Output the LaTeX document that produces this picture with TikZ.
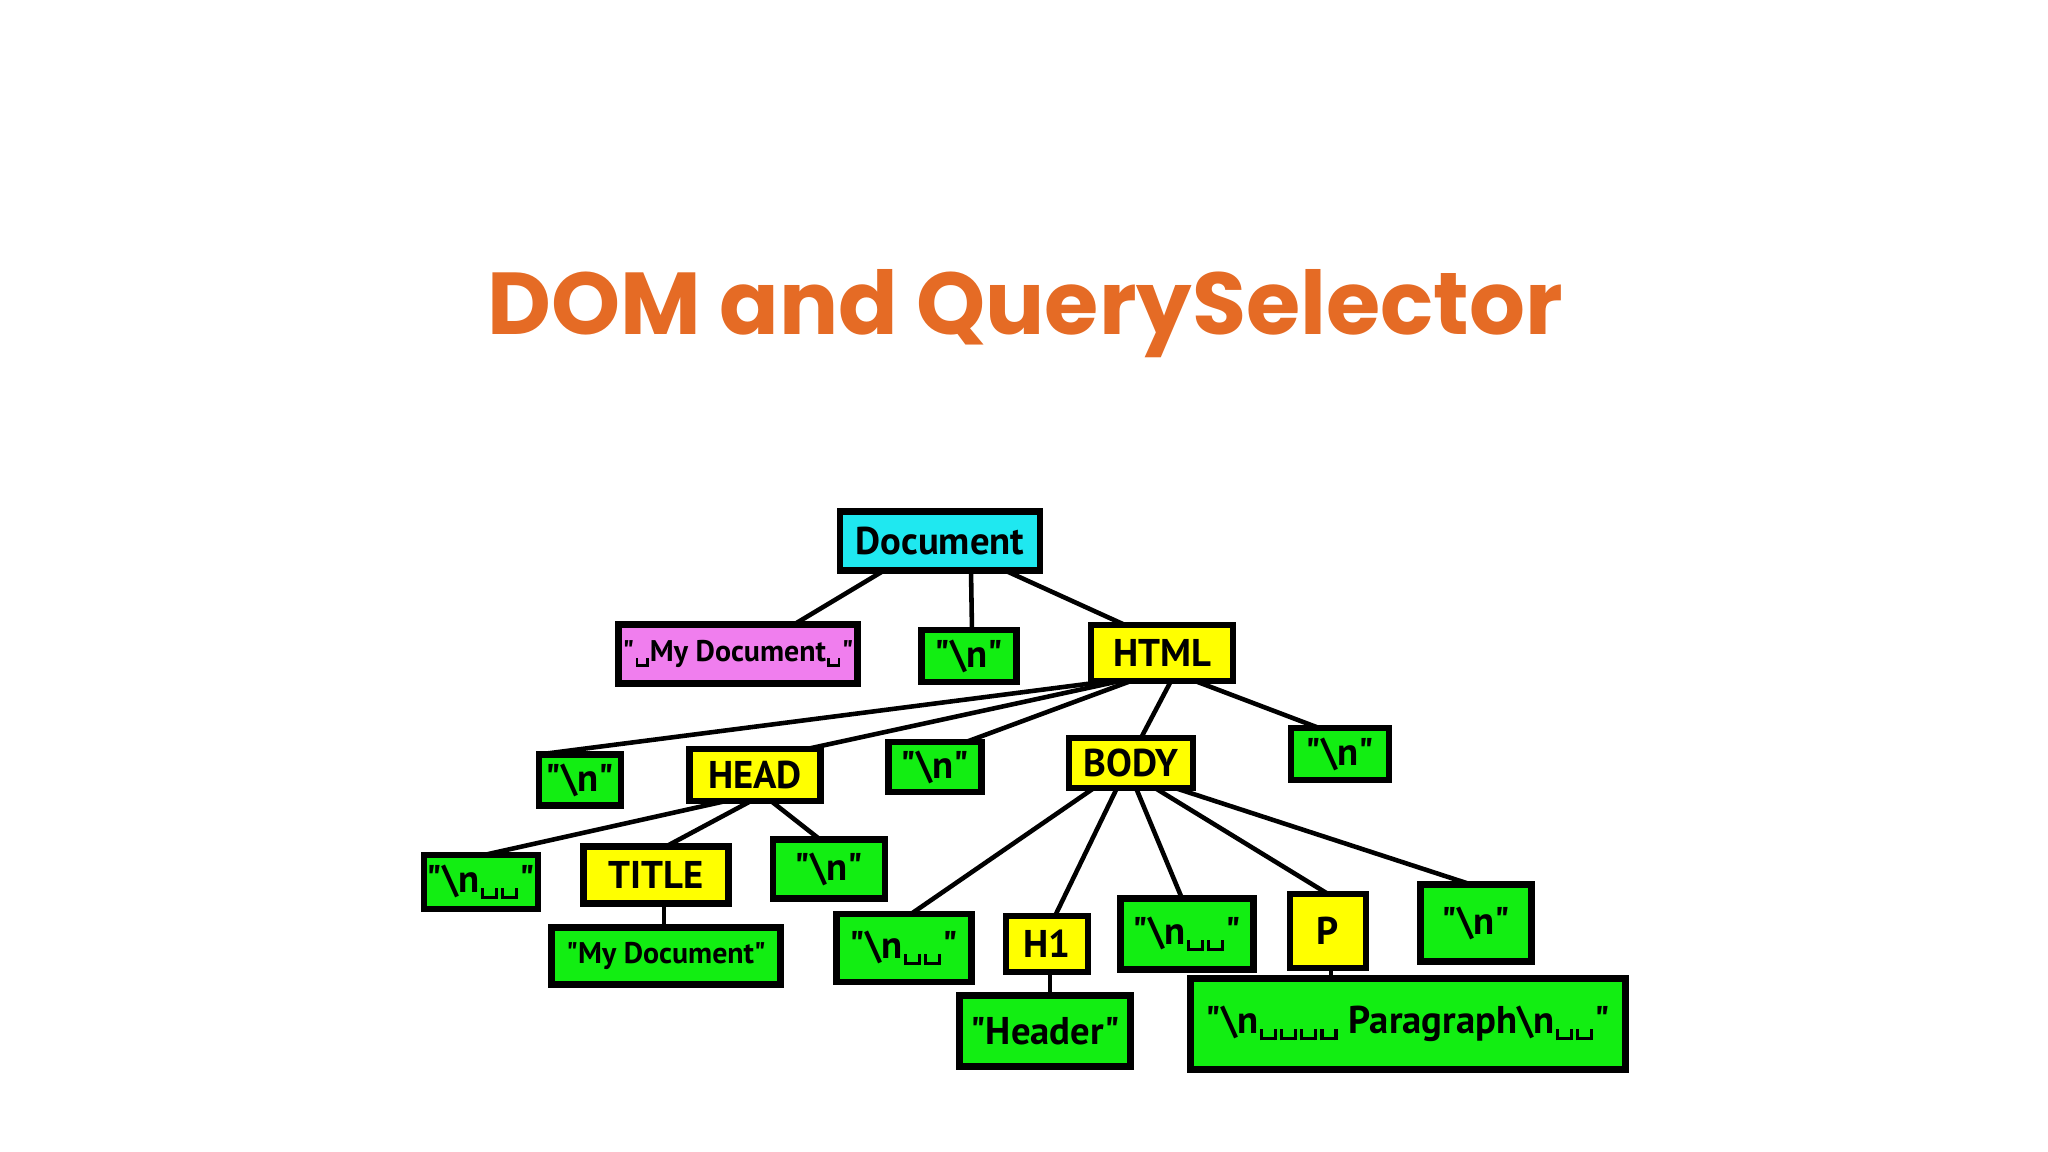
\documentclass[tikz,border=0pt]{standalone}
\usepackage{fontspec}
\newfontfamily\labelfont{PT Sans}
\newfontfamily\titlefont{Poppins}
\definecolor{DOMOrange}{HTML}{E56B25}
\definecolor{DOMCyan}{HTML}{1FE8F0}
\definecolor{DOMPink}{HTML}{F07EEE}
\definecolor{DOMGreen}{HTML}{12EE12}
\definecolor{DOMYellow}{HTML}{FFFF00}
\newcommand{\bs}{\textbackslash}
\newcommand{\vs}{\kern.04em\raisebox{-.35ex}{\rule{.08em}{.3em}\rule{.28em}{.08em}\rule{.08em}{.3em}}\kern.04em}

\begin{document}
\begin{tikzpicture}[x=1cm,y=1cm,
  domnode/.style={draw=black,line width=1.8pt,inner sep=0pt,outer sep=0pt,font=\labelfont\bfseries\fontsize{11}{13}\selectfont},
  smalltext/.style={font=\labelfont\bfseries\fontsize{8.5}{10}\selectfont},
  docbox/.style={domnode,fill=DOMCyan},
  tagbox/.style={domnode,fill=DOMYellow},
  textbox/.style={domnode,fill=DOMGreen},
  notebox/.style={domnode,fill=DOMPink},
  link/.style={line width=1.3pt,line cap=round}]
\path[use as bounding box] (0,0) rectangle (20.48,11.52);
\fill[white] (0,0) rectangle (20.48,11.52);
\node[anchor=base,text=DOMOrange,font=\titlefont\bfseries\fontsize{25}{30}\selectfont] (heading) at (10.25,8.17) {DOM and QuerySelector};
% level 1
\node[docbox,minimum width=2.00cm,minimum height=0.59cm] (doc) at (9.40,6.11) {Document};
% level 2
\node[notebox,smalltext,minimum width=2.39cm,minimum height=0.59cm] (note) at (7.38,4.98) {"\vs My Document\vs"};
\node[textbox,minimum width=0.95cm,minimum height=0.52cm] (nA) at (9.69,4.96) {"\bs n"};
\node[tagbox,minimum width=1.42cm,minimum height=0.56cm] (html) at (11.62,4.99) {HTML};
% level 3
\node[textbox,minimum width=0.82cm,minimum height=0.51cm] (nB) at (5.80,3.72) {"\bs n"};
\node[tagbox,minimum width=1.31cm,minimum height=0.52cm] (head) at (7.55,3.77) {HEAD};
\node[textbox,minimum width=0.93cm,minimum height=0.50cm] (nC) at (9.35,3.85) {"\bs n"};
\node[tagbox,minimum width=1.24cm,minimum height=0.50cm] (body) at (11.31,3.89) {BODY};
\node[textbox,minimum width=0.98cm,minimum height=0.52cm] (nD) at (13.40,3.98) {"\bs n"};
% under HEAD
\node[textbox,minimum width=1.14cm,minimum height=0.54cm] (nE) at (4.81,2.70) {"\bs n\vs\vs"};
\node[tagbox,minimum width=1.45cm,minimum height=0.57cm] (title) at (6.56,2.77) {TITLE};
\node[textbox,minimum width=1.12cm,minimum height=0.59cm] (nF) at (8.29,2.83) {"\bs n"};
\node[textbox,smalltext,minimum width=2.29cm,minimum height=0.57cm] (mydoc) at (6.66,1.96) {"My Document"};
% under BODY
\node[textbox,minimum width=1.35cm,minimum height=0.68cm] (nG) at (9.04,2.04) {"\bs n\vs\vs"};
\node[tagbox,minimum width=0.82cm,minimum height=0.56cm] (hone) at (10.47,2.08) {H1};
\node[textbox,minimum width=1.33cm,minimum height=0.71cm] (nH) at (11.87,2.18) {"\bs n\vs\vs"};
\node[tagbox,minimum width=0.76cm,minimum height=0.74cm] (para) at (13.28,2.21) {P};
\node[textbox,minimum width=1.11cm,minimum height=0.77cm] (nI) at (14.76,2.29) {"\bs n"};
\node[textbox,minimum width=1.71cm,minimum height=0.71cm] (header) at (10.45,1.21) {"Header"};
\node[textbox,minimum width=4.35cm,minimum height=0.91cm] (ptext) at (14.08,1.28) {"\bs n\vs\vs\vs\vs\ Paragraph\bs n\vs\vs"};
% connectors
\draw[link] ([xshift=-0.56cm]doc.south) -- ([xshift=0.56cm]note.north);
\draw[link] ([xshift=0.31cm]doc.south) -- ([xshift=0.03cm]nA.north);
\draw[link] ([xshift=0.65cm]doc.south) -- ([xshift=-0.37cm]html.north);
\draw[link] ([xshift=-0.52cm]html.south) -- (nB.north west);
\draw[link] ([xshift=-0.42cm]html.south) -- ([xshift=0.52cm]head.north);
\draw[link] ([xshift=-0.31cm]html.south) -- ([xshift=0.31cm]nC.north);
\draw[link] ([xshift=0.09cm]html.south) -- ([xshift=0.10cm]body.north);
\draw[link] ([xshift=0.33cm]html.south) -- ([xshift=-0.21cm]nD.north);
\draw[link] ([xshift=-0.29cm]head.south) -- ([xshift=0.03cm]nE.north);
\draw[link] ([xshift=-0.04cm]head.south) -- ([xshift=0.10cm]title.north);
\draw[link] ([xshift=0.16cm]head.south) -- ([xshift=-0.09cm]nF.north);
\draw[link] ([xshift=0.08cm]title.south) -- ([xshift=0.08cm]title.south |- mydoc.north);
\draw[link] ([xshift=-0.37cm]body.south) -- ([xshift=0.07cm]nG.north);
\draw[link] ([xshift=-0.14cm]body.south) -- ([xshift=0.08cm]hone.north);
\draw[link] ([xshift=0.05cm]body.south) -- ([xshift=-0.05cm]nH.north);
\draw[link] ([xshift=0.24cm]body.south) -- (para.north);
\draw[link] ([xshift=0.44cm]body.south) -- ([xshift=-0.05cm]nI.north);
\draw[link] ([xshift=0.03cm]hone.south) -- ([xshift=0.03cm]hone.south |- header.north);
\draw[link] ([xshift=0.03cm]para.south) -- ([xshift=0.03cm]para.south |- ptext.north);
\end{tikzpicture}
\end{document}
